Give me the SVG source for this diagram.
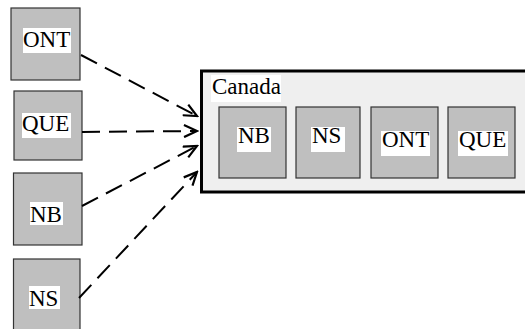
<svg xmlns="http://www.w3.org/2000/svg" width="525" height="329" viewBox="0 0 525 329">
<style>
.node{fill:#bfbfbf;stroke:#333;stroke-width:1.2}
.lbl{font-family:"Liberation Serif","Times New Roman",serif;font-size:23px;fill:#000}
.bg{fill:#fff}
.conn{fill:none;stroke:#000;stroke-width:2;stroke-dasharray:18 9}
</style>
<defs>
<marker id="arr" markerWidth="16" markerHeight="14" refX="14" refY="7" orient="auto" markerUnits="userSpaceOnUse">
<path d="M1,1 L14,7 L1,13" fill="none" stroke="#000" stroke-width="2.2"/>
</marker>
</defs>
<rect width="525" height="329" fill="#fff"/>
<g id="canada">
<rect x="201.5" y="71" width="340" height="121" fill="#efefef" stroke="#000" stroke-width="3"/>
<rect class="bg" x="211" y="75" width="70" height="27"/>
<text class="lbl" x="212" y="94">Canada</text>
</g>
<g id="in-nb">
<rect class="node" x="219" y="107" width="67" height="71"/>
<rect class="bg" x="237" y="127" width="34" height="25"/>
<text class="lbl" x="238" y="143">NB</text>
</g>
<g id="in-ns">
<rect class="node" x="296" y="107" width="64" height="71"/>
<rect class="bg" x="311" y="127" width="34" height="25"/>
<text class="lbl" x="312" y="143">NS</text>
</g>
<g id="in-ont">
<rect class="node" x="371" y="107" width="67" height="71"/>
<rect class="bg" x="381" y="131" width="49" height="25"/>
<text class="lbl" x="382" y="147">ONT</text>
</g>
<g id="in-que">
<rect class="node" x="448" y="107" width="67" height="71"/>
<rect class="bg" x="458" y="131" width="50" height="25"/>
<text class="lbl" x="459" y="147">QUE</text>
</g>
<g id="ont">
<rect class="node" x="11" y="8" width="69" height="72"/>
<rect class="bg" x="23" y="28" width="48" height="25"/>
<text class="lbl" x="23" y="47">ONT</text>
</g>
<g id="que">
<rect class="node" x="14" y="91" width="68" height="69"/>
<rect class="bg" x="22" y="113" width="49" height="25"/>
<text class="lbl" x="22" y="131">QUE</text>
</g>
<g id="nb">
<rect class="node" x="13.5" y="173" width="68.5" height="72"/>
<rect class="bg" x="30" y="202" width="33" height="23"/>
<text class="lbl" x="30" y="222">NB</text>
</g>
<g id="ns">
<rect class="node" x="13.5" y="259" width="66.5" height="80"/>
<rect class="bg" x="29" y="286" width="31" height="23"/>
<text class="lbl" x="29" y="306">NS</text>
</g>
<g id="connectors">
<line class="conn" x1="81" y1="55" x2="197" y2="116" marker-end="url(#arr)"/>
<line class="conn" x1="82" y1="132" x2="197" y2="131" marker-end="url(#arr)"/>
<line class="conn" x1="82" y1="206" x2="197" y2="146" marker-end="url(#arr)"/>
<line class="conn" x1="79" y1="298" x2="197" y2="172" marker-end="url(#arr)"/>
</g>
</svg>
